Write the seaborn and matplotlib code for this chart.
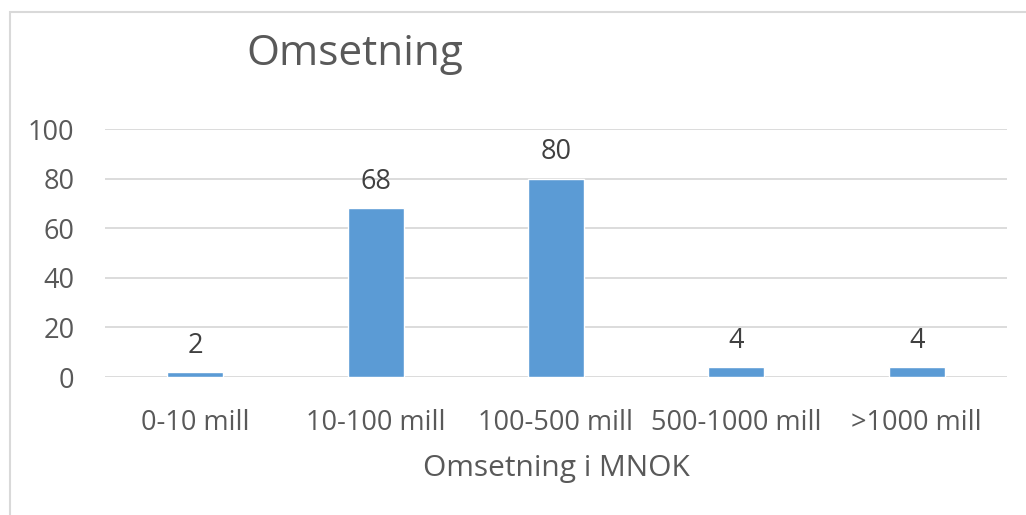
import matplotlib
matplotlib.use("Agg")
import matplotlib.pyplot as plt
import matplotlib.patches as mpatches
import seaborn as sns
import pandas as pd

categories = ["0-10 mill", "10-100 mill", "100-500 mill", "500-1000 mill", ">1000 mill"]
values = [2, 68, 80, 4, 4]
y_ticks = [0, 20, 40, 60, 80, 100]

title = "Omsetning"
x_label = "Omsetning i MNOK"

sns.set_theme(style="white")
plt.rcParams["font.family"] = ["Open Sans", "DejaVu Sans"]

df = pd.DataFrame({"kategori": categories, "antall": values})

W, H = 1026, 515
fig = plt.figure(figsize=(W / 100, H / 100), dpi=100)
ax = fig.add_axes([105 / W, (H - 377) / H, (1007 - 105) / W, (377 - 129) / H])

sns.barplot(data=df, x="kategori", y="antall", color="#5B9BD5", width=0.31,
            saturation=1, ax=ax, zorder=3)

ax.set_ylim(0, 100)
ax.set_xlim(-0.5, len(categories) - 0.5)
ax.set_yticks(y_ticks)
ax.yaxis.grid(True, color="#D9D9D9", linewidth=1.3, zorder=0)
ax.xaxis.grid(False)
for s in ax.spines.values():
    s.set_visible(False)
ax.tick_params(axis="both", length=0, labelsize=19.5, labelcolor="#595959")
ax.tick_params(axis="x", pad=23)
ax.tick_params(axis="y", pad=22)

ax.set_xlabel(x_label, fontsize=21.5, color="#595959", labelpad=12)
ax.set_ylabel("")

for c in ax.containers:
    ax.bar_label(c, labels=[str(v) for v in values], padding=9,
                 fontsize=19.5, color="#404040")

fig.text(355 / W, (H - 54) / H, title, fontsize=30.5, color="#595959",
         ha="center", va="center")

# light frame around the chart area
fig.patches.append(mpatches.Rectangle((10 / W, -0.1), 1.2, (H - 12) / H + 0.1,
                                      transform=fig.transFigure, fill=False,
                                      edgecolor="#D9D9D9", linewidth=1.5))

fig.savefig("out.png", dpi=100)
